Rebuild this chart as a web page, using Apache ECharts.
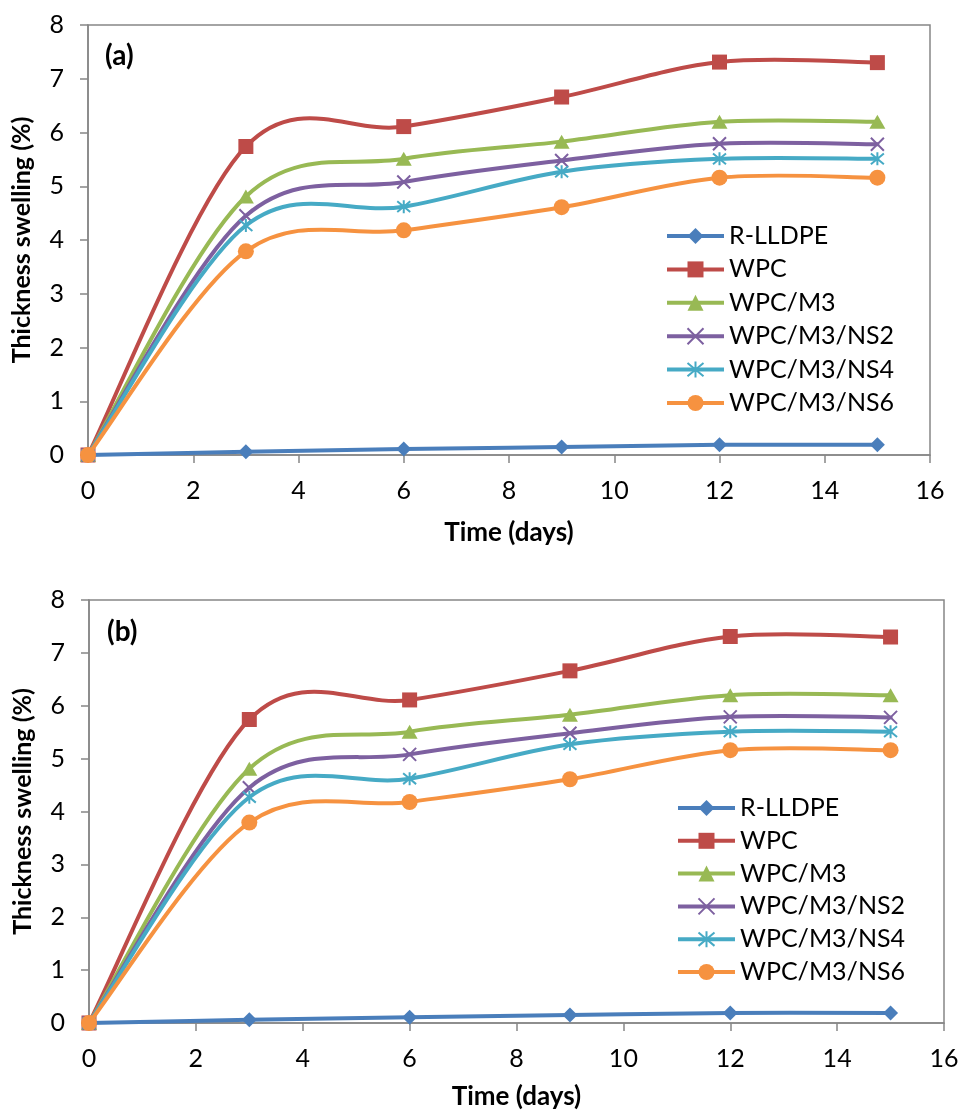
<!DOCTYPE html>
<html>
<head>
<meta charset="utf-8">
<script src="https://cdn.jsdelivr.net/npm/echarts@6/dist/echarts.min.js"></script>
<style>
  html, body { margin: 0; padding: 0; background: #ffffff; }
  #chart { width: 962px; height: 1111px; }
</style>
</head>
<body>
<div id="chart"></div>
<script>
// Immersion time (days) and thickness swelling (%) for each composite
const days = [0, 3, 6, 9, 12, 15];
const rLldpe   = [0, 0.06, 0.11, 0.15, 0.19, 0.19];
const wpc      = [0, 5.74, 6.11, 6.66, 7.31, 7.30];
const wpcM3    = [0, 4.81, 5.51, 5.83, 6.20, 6.20];
const wpcM3Ns2 = [0, 4.45, 5.08, 5.48, 5.79, 5.78];
const wpcM3Ns4 = [0, 4.27, 4.62, 5.27, 5.51, 5.51];
const wpcM3Ns6 = [0, 3.79, 4.18, 4.61, 5.16, 5.16];

const seriesNames = ['R-LLDPE', 'WPC', 'WPC/M3', 'WPC/M3/NS2', 'WPC/M3/NS4', 'WPC/M3/NS6'];
const seriesValues = [rLldpe, wpc, wpcM3, wpcM3Ns2, wpcM3Ns4, wpcM3Ns6];

// Axis ticks
const xTicks = [0, 2, 4, 6, 8, 10, 12, 14, 16];
const yTicks = [0, 1, 2, 3, 4, 5, 6, 7, 8];

const panelLabels = ['(a)', '(b)'];

// Styling
const FONT = 'Lato, "Open Sans", sans-serif';
const colors = ['#4A7EBB', '#BE4B48', '#98B954', '#7D60A0', '#46AAC5', '#F69240'];
const X_PATH = 'path://M0,0L10,10M10,0L0,10';
const STAR_PATH = 'path://M0,0L10,10M10,0L0,10M5,-1L5,11';
const symbols = ['diamond', 'rect', 'triangle', X_PATH, STAR_PATH, 'circle'];
const symbolSizes = [[15, 15], 15, [16, 14], 13, 13, 16];
const LINE_W = 4;
const TENSION = 1 / 6; // cardinal spline handle length

// Layout of the two panels (pixels)
const panels = [
  { left: 88, top: 25, width: 842, height: 430, legendLeft: 665, legendTop: 223.5, legendGap: 8.4,
    xNameGap: 65, labelX: 105, labelY: 57 },
  { left: 89, top: 600, width: 855, height: 423, legendLeft: 676, legendTop: 795.5, legendGap: 7.8,
    xNameGap: 61, labelX: 107, labelY: 633 }
];

const axisColor = '#868686';

// Marker series (also provide legend icons)
function buildMarkerSeries(gridIndex) {
  return seriesNames.map((name, i) => {
    const isStroke = i === 3 || i === 4;
    return {
      name: name,
      type: 'line',
      xAxisIndex: gridIndex,
      yAxisIndex: gridIndex,
      data: days.map((d, k) => [d, seriesValues[i][k]]),
      symbol: symbols[i],
      symbolSize: symbolSizes[i],
      showSymbol: true,
      lineStyle: { color: colors[i], width: LINE_W, opacity: 0 },
      itemStyle: isStroke
        ? { color: colors[i], borderColor: colors[i], borderWidth: 2 }
        : { color: colors[i], borderWidth: 0 },
      emphasis: { disabled: true },
      z: 3 + 2 * i
    };
  });
}

// Smooth curves: cubic Bezier segments through the data points (cardinal spline)
function buildCurveSeries(gridIndex) {
  return seriesNames.map((name, si) => {
    const vals = seriesValues[si];
    return {
      name: name,
      type: 'custom',
      coordinateSystem: 'cartesian2d',
      xAxisIndex: gridIndex,
      yAxisIndex: gridIndex,
      data: days.map((d, k) => [d, vals[k]]),
      silent: true,
      z: 2 + 2 * si,
      renderItem: function (params, api) {
        const i = params.dataIndex;
        const n = days.length;
        if (i >= n - 1) return null;
        const pt = k => api.coord([days[k], vals[k]]);
        const p0 = pt(i);
        const p1 = pt(i + 1);
        const pPrev = i > 0 ? pt(i - 1) : p0;
        const pNext = i + 2 < n ? pt(i + 2) : p1;
        return {
          type: 'bezierCurve',
          shape: {
            x1: p0[0], y1: p0[1],
            x2: p1[0], y2: p1[1],
            cpx1: p0[0] + (p1[0] - pPrev[0]) * TENSION,
            cpy1: p0[1] + (p1[1] - pPrev[1]) * TENSION,
            cpx2: p1[0] - (pNext[0] - p0[0]) * TENSION,
            cpy2: p1[1] - (pNext[1] - p0[1]) * TENSION
          },
          style: { stroke: colors[si], lineWidth: LINE_W, fill: null, lineCap: 'round' }
        };
      }
    };
  });
}

const option = {
  animation: false,
  backgroundColor: '#ffffff',
  grid: panels.map(p => ({
    left: p.left, top: p.top, width: p.width, height: p.height,
    show: true, borderColor: axisColor, borderWidth: 1.5, backgroundColor: 'transparent',
    containLabel: false, outerBoundsMode: 'none'
  })),
  xAxis: panels.map((p, gi) => ({
    type: 'value',
    gridIndex: gi,
    min: xTicks[0], max: xTicks[xTicks.length - 1], interval: xTicks[1] - xTicks[0],
    name: 'Time (days)',
    nameLocation: 'middle',
    nameGap: p.xNameGap,
    nameTextStyle: { fontFamily: FONT, fontSize: 26, fontWeight: 'bold', color: '#000' },
    axisLine: { show: true, onZero: false, lineStyle: { color: axisColor, width: 1.5 } },
    axisTick: { show: true, inside: false, length: 8, lineStyle: { color: axisColor, width: 1.5 } },
    axisLabel: { margin: 23, fontFamily: FONT, fontSize: 25, color: '#000' },
    splitLine: { show: false }
  })),
  yAxis: panels.map((p, gi) => ({
    type: 'value',
    gridIndex: gi,
    min: yTicks[0], max: yTicks[yTicks.length - 1], interval: yTicks[1] - yTicks[0],
    name: 'Thickness swelling (%)',
    nameLocation: 'middle',
    nameRotate: 90,
    nameGap: 54,
    nameTextStyle: { fontFamily: FONT, fontSize: 25, fontWeight: 'bold', color: '#000' },
    axisLine: { show: true, onZero: false, lineStyle: { color: axisColor, width: 1.5 } },
    axisTick: { show: true, inside: false, length: 8, lineStyle: { color: axisColor, width: 1.5 } },
    axisLabel: { margin: 24, fontFamily: FONT, fontSize: 25, color: '#000' },
    splitLine: { show: false }
  })),
  legend: panels.map((p, gi) => ({
    data: seriesNames,
    orient: 'vertical',
    left: p.legendLeft,
    top: p.legendTop,
    padding: 0,
    itemWidth: 57,
    itemHeight: 20,
    itemGap: p.legendGap,
    selectedMode: false,
    lineStyle: { width: LINE_W, opacity: 1 },
    textStyle: { fontFamily: FONT, fontSize: 25, color: '#000' }
  })),
  graphic: panels.map((p, gi) => ({
    type: 'text',
    left: p.labelX,
    top: p.labelY - 15,
    style: { text: panelLabels[gi], font: 'bold 28px ' + FONT, fill: '#000' }
  })),
  series: [...buildMarkerSeries(0), ...buildMarkerSeries(1), ...buildCurveSeries(0), ...buildCurveSeries(1)]
};

const chart = echarts.init(document.getElementById('chart'), null, { renderer: 'canvas' });
chart.setOption(option);
</script>
</body>
</html>
